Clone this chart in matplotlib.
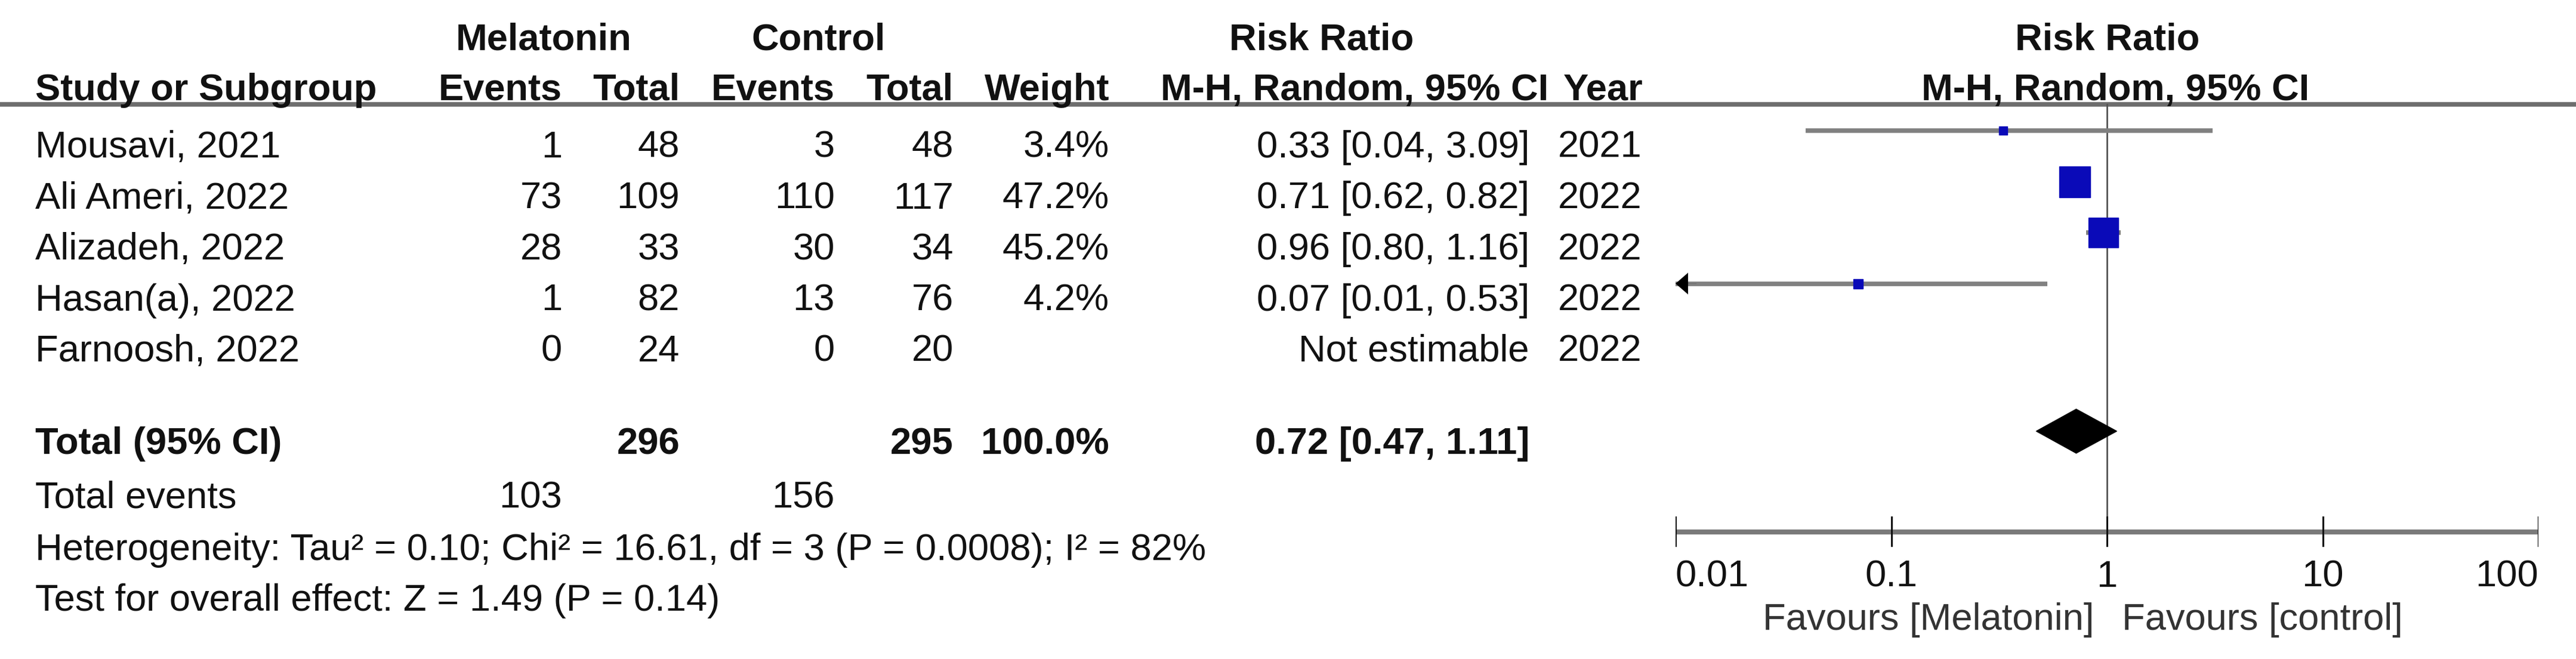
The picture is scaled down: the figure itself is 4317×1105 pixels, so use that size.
import numpy as np
import matplotlib
matplotlib.use('Agg')
import matplotlib.pyplot as plt

# data
studies = ['Mousavi, 2021', 'Ali Ameri, 2022', 'Alizadeh, 2022', 'Hasan(a), 2022', 'Farnoosh, 2022']
mel_events = [1, 73, 28, 1, 0]
mel_total = [48, 109, 33, 82, 24]
ctl_events = [3, 110, 30, 13, 0]
ctl_total = [48, 117, 34, 76, 20]
weights = [3.4, 47.2, 45.2, 4.2, None]
rr = [0.33, 0.71, 0.96, 0.07, None]
ci_low = [0.04, 0.62, 0.80, 0.01, None]
ci_high = [3.09, 0.82, 1.16, 0.53, None]
years = [2021, 2022, 2022, 2022, 2022]

total_mel, total_ctl = 296, 295
events_mel, events_ctl = 103, 156
total_rr, total_lo, total_hi = 0.72, 0.47, 1.11
heterogeneity = 'Heterogeneity: Tau\u00b2 = 0.10; Chi\u00b2 = 16.61, df = 3 (P = 0.0008); I\u00b2 = 82%'
overall = 'Test for overall effect: Z = 1.49 (P = 0.14)'
ticks = [0.01, 0.1, 1, 10, 100]
tick_labels = ['0.01', '0.1', '1', '10', '100']

W, H = 4317, 1105
plt.rcParams['font.family'] = ['Liberation Sans', 'DejaVu Sans']
fs = 45.5
fig = plt.figure(figsize=[W / 100, H / 100], dpi=100)

# text table, pixel coordinates
tx = fig.add_axes([0, 0, 1, 1])
tx.set_xlim(0, W)
tx.set_ylim(H, 0)
tx.axis('off')

def put(x, y, s, ha='right', bold=False, color='#111111'):
    tx.text(x, y + 23, s, ha=ha, va='baseline', fontsize=fs,
            fontweight='bold' if bold else 'normal', color=color)

# column right edges
c_me, c_mt, c_ce, c_ct, c_w, c_ci, c_yr = 942, 1139, 1399, 1598, 1859, 2563, 2752

put(911, 60, 'Melatonin', ha='center', bold=True)
put(1372, 60, 'Control', ha='center', bold=True)
put(2215, 60, 'Risk Ratio', ha='center', bold=True)
put(3532, 60, 'Risk Ratio', ha='center', bold=True)
put(59, 145, 'Study or Subgroup', ha='left', bold=True)
put(c_me, 145, 'Events', bold=True)
put(c_mt, 145, 'Total', bold=True)
put(c_ce, 145, 'Events', bold=True)
put(c_ct, 145, 'Total', bold=True)
put(c_w, 145, 'Weight', bold=True)
put(1945, 145, 'M-H, Random, 95% CI', ha='left', bold=True)
put(2754, 145, 'Year', bold=True)
put(3545, 145, 'M-H, Random, 95% CI', ha='center', bold=True)
tx.plot([0, W], [175, 175], color='#6e6e6e', lw=5.5, solid_capstyle='butt', zorder=0)

row_y = [241 + 85.5 * i for i in range(len(studies))]
for i, y in enumerate(row_y):
    put(59, y, studies[i], ha='left')
    put(c_me, y, str(mel_events[i]))
    put(c_mt, y, str(mel_total[i]))
    put(c_ce, y, str(ctl_events[i]))
    put(c_ct, y, str(ctl_total[i]))
    if weights[i] is not None:
        put(c_w, y, '%.1f%%' % weights[i])
        put(c_ci, y, '%.2f [%.2f, %.2f]' % (rr[i], ci_low[i], ci_high[i]))
    else:
        put(c_ci, y, 'Not estimable')
    put(c_yr, y, str(years[i]))

y_tot = 738
put(59, y_tot, 'Total (95% CI)', ha='left', bold=True)
put(c_mt, y_tot, str(total_mel), bold=True)
put(c_ct, y_tot, str(total_ctl), bold=True)
put(c_w, y_tot, '100.0%', bold=True)
put(c_ci, y_tot, '%.2f [%.2f, %.2f]' % (total_rr, total_lo, total_hi), bold=True)
put(59, 828, 'Total events', ha='left')
put(c_me, 828, str(events_mel))
put(c_ce, 828, str(events_ctl))
put(59, 916, heterogeneity, ha='left')
put(59, 1001, overall, ha='left')

# forest panel, log scale
x0, x1 = 2808, 4254
ax = fig.add_axes([x0 / W, 0, (x1 - x0) / W, 1])
ax.set_xscale('log')
ax.set_xlim(ticks[0], ticks[-1])
ax.set_ylim(H, 0)
ax.axis('off')
ax.patch.set_alpha(0)

axis_y = 892
ax.plot([1, 1], [175, axis_y], color='#555555', lw=2, zorder=1)
ax.plot([ticks[0], ticks[-1]], [axis_y, axis_y], color='#7a7a7a', lw=6, solid_capstyle='butt', zorder=1)
for t, lab in zip(ticks, tick_labels):
    ax.plot([t, t], [867, 915], color='#111111', lw=2.2, zorder=2)
    ha = 'left' if t == ticks[0] else ('right' if t == ticks[-1] else 'center')
    ax.text(t, 961 + 23, lab, ha=ha, va='baseline', fontsize=fs, color='#111111')
ax.text(0.87, 1033 + 23, 'Favours [Melatonin]', ha='right', va='baseline', fontsize=fs, color='#333333')
ax.text(1.17, 1033 + 23, 'Favours [control]', ha='left', va='baseline', fontsize=fs, color='#333333')

for i, y in enumerate(row_y):
    if rr[i] is None:
        continue
    yy = y - 22
    lo = max(ci_low[i], ticks[0])
    ax.plot([lo, ci_high[i]], [yy, yy], color='#808080', lw=5.5, solid_capstyle='butt', zorder=3)
    if ci_low[i] <= ticks[0]:
        ax.annotate('', xy=(ticks[0], yy), xytext=(ticks[0] * 1.25, yy),
                    arrowprops=dict(arrowstyle='-|>,head_length=15,head_width=13',
                                    mutation_scale=1, color='black', lw=0.1,
                                    shrinkA=0, shrinkB=0), zorder=4)
    ms = 37 * np.sqrt(weights[i] / 47.2)
    ax.plot([rr[i]], [yy], marker='s', ms=ms, color='#0a0ab8', mec='#0a0ab8', zorder=5)

yd = y_tot - 15
ax.fill([total_lo, total_rr, total_hi, total_rr], [yd, yd - 37, yd, yd + 37],
        color='black', zorder=5)

fig.savefig('out.png', dpi=100, facecolor='white')
